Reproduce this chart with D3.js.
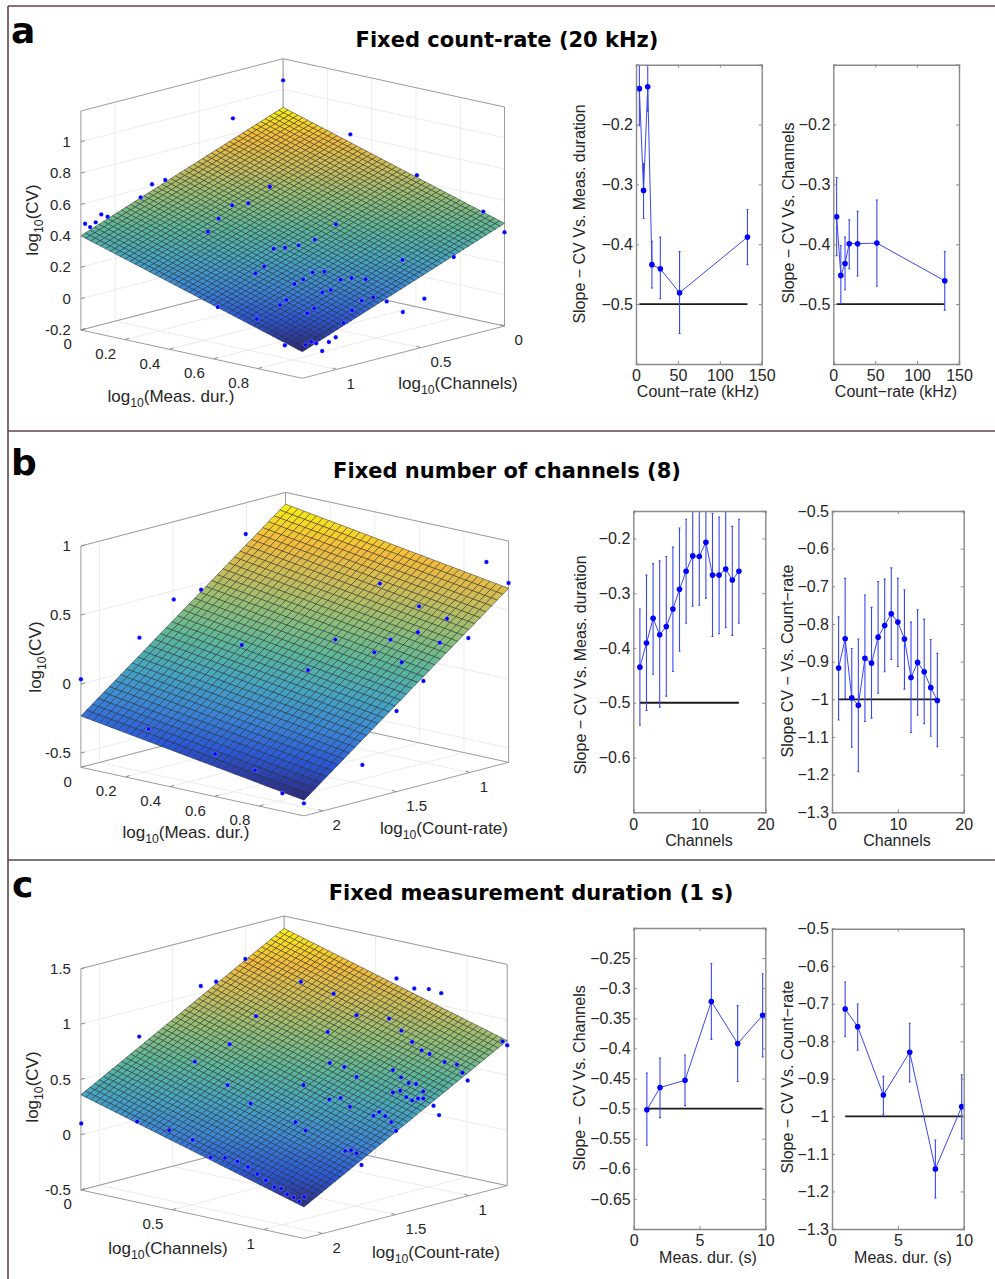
<!DOCTYPE html>
<html>
<head>
<meta charset="utf-8">
<script src="https://cdn.jsdelivr.net/npm/d3@7"></script>
<style>
   html, body { margin: 0; padding: 0; background: #fff; }
   svg { display: block; }
   text { font-family: "Liberation Sans", sans-serif; fill: #262626; }
   .head { font-family: "DejaVu Sans", sans-serif; font-weight: bold; fill: #000; }
</style>
</head>
<body>
<svg id="fig" width="995" height="1279"></svg>
<script>
// ---- panel a data: scatter in log10 units, fitted surface corners, slope plots
var durA = [0,.359,.636,.793,.168,.199,.141,.446,.357,.395,.048,.063,.035,.010,.022,.325,.950,.602,.300,1,.552,.455,.482,.514,.759,.880,.433,.412,.547,.575,.525,.504,.613,.639,.672,.570,.590,.690,.811,.485,.470,.663,.722,.323,.551,.640,.534,.760,.415,.620,.888,.872,.842,.830,.817,.768,.856];
var chanA = [0,.772,.438,.249,1.002,.964,1.034,.667,.774,.728,1.146,1.128,1.162,1.192,1.178,.813,.060,.479,.843,0,.539,.656,.624,.585,.290,.144,.683,.708,.545,.512,.572,.597,.466,.435,.395,.518,.494,.373,.228,.620,.638,.406,.335,.815,.541,.433,.561,.289,.704,.458,.857,.877,.913,.927,.943,1.002,.896];
var cvA = [1.057,1.139,1.030,.765,.724,.750,.641,.701,.585,.597,.535,.520,.485,.477,.455,.501,.530,.458,.419,.397,.361,.306,.312,.326,.227,.242,.194,.151,.153,.157,.109,.080,.105,.115,.106,.025,.040,-.010,-.021,-.021,-.053,-.030,-.036,-.062,-.076,-.091,-.107,-.105,-.141,-.171,-.069,-.099,-.106,-.096,-.116,-.117,-.156];
// surface height at the back, right, left and front corners of the floor
var surfaceA = [.885, .454, .400, -.020];

var rateKHz = [4, 9, 14, 19, 29, 52, 133];
var slopeDurRate = [-.140,-.310,-.137,-.434,-.441,-.481,-.388];
var slopeDurRateHi = [-.078,-.265,-.096,-.395,-.388,-.412,-.342];
var slopeDurRateLo = [-.202,-.357,-.178,-.473,-.491,-.549,-.434];
var slopeChanRate = [-.354,-.452,-.432,-.399,-.399,-.398,-.461];
var slopeChanRateHi = [-.2885,-.402,-.388,-.359,-.345,-.326,-.412];
var slopeChanRateLo = [-.419,-.499,-.476,-.441,-.453,-.470,-.510];

// ---- panel b data
var durB = [.194,.948,1,.699,.281,.217,.791,.856,.788,.137,.595,.724,.839,.906,.376,.686,.750,.531,0,.801,.738,.158,.314,.945,.694,.758,.952];
var rateB = [1.300,.808,.736,1.154,1.735,1.824,1.027,.936,1.031,1.936,1.299,1.120,.960,.867,1.603,1.172,1.083,1.388,2.126,1.013,1.100,1.906,1.690,1.646,1.995,1.906,2.054];
var cvB = [.924,.850,.696,.702,.673,.605,.534,.442,.346,.331,.300,.295,.269,.300,.269,.204,.130,.082,.034,-.007,-.223,-.332,-.519,-.388,-.418,-.587,-.550];
var surfaceB = [.915, .657, -.232, -.483];

var channelsList = [1,2,3,4,5,6,7,8,9,10,11,12,13,14,15,16];
var slopeDurChan = [-.435,-.391,-.346,-.376,-.361,-.329,-.293,-.260,-.232,-.233,-.207,-.267,-.267,-.256,-.276,-.260];
var slopeDurChanHi = [-.329,-.267,-.246,-.241,-.233,-.216,-.181,-.165,-.145,-.145,-.139,-.154,-.161,-.145,-.178,-.165];
var slopeDurChanLo = [-.541,-.514,-.448,-.508,-.488,-.443,-.406,-.355,-.324,-.322,-.309,-.379,-.374,-.363,-.377,-.355];
var slopeRateChan = [-.917,-.839,-.996,-1.016,-.891,-.904,-.835,-.804,-.773,-.795,-.840,-.942,-.902,-.927,-.969,-1.003];
var slopeRateChanHi = [-.781,-.679,-.865,-.840,-.723,-.756,-.687,-.681,-.651,-.679,-.709,-.795,-.762,-.787,-.841,-.878];
var slopeRateChanLo = [-1.055,-.997,-1.127,-1.192,-1.059,-1.050,-.984,-.927,-.894,-.913,-.973,-1.088,-1.042,-1.065,-1.098,-1.126];

// ---- panel c data
var chanC = [.238,.343,.387,.630,.723,.903,.954,.996,1.031,.501,.789,.882,.167,.706,.917,.948,.426,.975,.998,1.207,1.22,.326,.712,.754,.893,1.041,1.076,1.092,1.107,.789,.916,.938,.959,.420,.637,.893,.914,.980,.711,.743,.931,.948,.965,.980,.486,.770,1.009,.837,.854,.871,1.025,.888,.614,.001,.161,.643,.253,.902,.320,.756,.773,.789,.803,.371,.412,.448,.478,.505,.529,.903,.922,.939,.958,.974,.988];
var rateC = [1.299,1.735,1.685,1.409,1.302,1.097,1.039,.992,.951,1.555,1.227,1.121,1.936,1.321,1.081,1.046,1.641,1.015,.989,.751,.736,1.755,1.314,1.267,1.109,.940,.900,.882,.865,1.227,1.082,1.057,1.033,1.648,1.400,1.109,1.085,1.010,1.316,1.279,1.065,1.046,1.027,1.010,1.573,1.249,.976,1.172,1.153,1.134,.958,1.114,1.427,2.125,1.943,1.393,1.838,1.099,1.762,1.264,1.245,1.227,1.211,1.703,1.656,1.616,1.581,1.551,1.523,1.931,1.909,1.890,1.869,1.851,1.834];
var cvC = [1.389,1.332,1.370,1.362,1.250,1.383,1.291,1.284,1.246,1.055,1.055,1.021,.881,.906,.911,.808,.804,.731,.698,.805,.769,.650,.625,.588,.556,.624,.598,.525,.455,.496,.489,.437,.427,.435,.428,.353,.368,.360,.296,.307,.310,.279,.297,.296,.267,.227,.229,.144,.179,.140,.144,.085,.094,.101,.114,.017,.033,.006,-.057,-.171,-.165,-.193,-.299,-.216,-.223,-.255,-.307,-.371,-.429,-.218,-.231,-.283,-.311,-.350,-.308];
var surfaceC = [1.388, .811, .361, -.234];

var durSeconds = [1, 2, 3.9, 5.9, 7.9, 9.8];
var durSeconds2 = [1, 1.95, 3.9, 5.9, 7.85, 9.85];
var slopeChanDur = [-.502,-.465,-.453,-.322,-.392,-.345];
var slopeChanDurHi = [-.441,-.416,-.411,-.259,-.329,-.276];
var slopeChanDurLo = [-.561,-.515,-.495,-.385,-.455,-.414];
var slopeRateDur = [-.714,-.761,-.943,-.829,-1.140,-.974];
var slopeRateDurHi = [-.642,-.701,-.893,-.752,-1.063,-.889];
var slopeRateDurLo = [-.788,-.824,-.996,-.908,-1.217,-1.060];

// tick labels
var ticksCvA = [-.2, 0, .2, .4, .6, .8, 1];
var ticksCvB = [-.5, 0, .5, 1];
var ticksCvC = [-.5, 0, .5, 1, 1.5];
var ticksDur = [0, .2, .4, .6, .8];
var ticksChan = [0, .5, 1];
var ticksRate = [1, 1.5, 2];
var ticksY1 = [-.5, -.4, -.3, -.2];
var ticksY2 = [-.6, -.5, -.4, -.3, -.2];
var ticksY3 = [-1.3, -1.2, -1.1, -1, -.9, -.8, -.7, -.6, -.5];
var ticksY4 = [-.65, -.6, -.55, -.5, -.45, -.4, -.35, -.3, -.25];

var svg = d3.select("#fig");

// parula as it looks in the figure, a bit washed out
var parula = d3.scaleLinear()
   .domain([0, .125, .25, .375, .5, .625, .75, .875, 1])
   .range(["#2c2a80","#2a58d8","#3b86d6","#45a6c0","#5cb79a","#8fbe78","#c8bd5a","#f4bb3b","#f9f20e"]);

function logLabel(sel, name) {
   sel.append("tspan").text("log");
   sel.append("tspan").attr("dy", 5).attr("font-size", "0.72em").text("10");
   sel.append("tspan").attr("dy", -5).text("(" + name + ")");
}

function drawSurfacePlot(p) {
   var g = svg.append("g");
   var nCells = p.nCells;
   var uFrac = d3.scaleLinear().domain(p.uDomain).range([0, 1]);
   var vFrac = d3.scaleLinear().domain(p.vDomain).range([0, 1]);
   var zFrac = d3.scaleLinear().domain(p.zDomain).range([0, 1]);

   function project(u, v, z) {
      var fu = uFrac(u), fv = vFrac(v);
      return [
         p.back[0] + fu * (p.right[0] - p.back[0]) + fv * (p.left[0] - p.back[0]),
         p.back[1] + fu * (p.right[1] - p.back[1]) + fv * (p.left[1] - p.back[1]) - zFrac(z) * p.height
      ];
   }
   function line(a, b, color, w) {
      g.append("line")
         .attr("x1", a[0]).attr("y1", a[1])
         .attr("x2", b[0]).attr("y2", b[1])
         .attr("stroke", color).attr("stroke-width", w);
   }

   var u0 = p.uDomain[0], u1 = p.uDomain[1];
   var v0 = p.vDomain[0], v1 = p.vDomain[1];
   var z0 = p.zDomain[0], z1 = p.zDomain[1];

   // grid on walls and floor
   var gridColor = "#ececec";
   p.zTicks.forEach(function(t) {
      line(project(u0, v1, t), project(u0, v0, t), gridColor, 1);
      line(project(u0, v0, t), project(u1, v0, t), gridColor, 1);
   });
   p.uTicks.forEach(function(t) {
      line(project(t, v1, z0), project(t, v0, z0), gridColor, 1);
      line(project(t, v0, z0), project(t, v0, z1), gridColor, 1);
   });
   p.vTicks.forEach(function(t) {
      line(project(u1, t, z0), project(u0, t, z0), gridColor, 1);
      line(project(u0, t, z0), project(u0, t, z1), gridColor, 1);
   });

   // box
   var boxColor = "#9c9c9c";
   line(project(u0, v1, z0), project(u0, v1, z1), boxColor, 1);
   line(project(u0, v0, z0), project(u0, v0, z1), boxColor, 1);
   line(project(u1, v0, z0), project(u1, v0, z1), boxColor, 1);
   line(project(u0, v1, z1), project(u0, v0, z1), boxColor, 1);
   line(project(u0, v0, z1), project(u1, v0, z1), boxColor, 1);
   line(project(u0, v1, z0), project(u0, v0, z0), boxColor, 1);
   line(project(u0, v0, z0), project(u1, v0, z0), boxColor, 1);
   line(project(u0, v1, z0), project(u1, v1, z0), boxColor, 1);
   line(project(u1, v1, z0), project(u1, v0, z0), boxColor, 1);

   // fitted plane
   var c = p.surface;
   function height(fu, fv) {
      return c[0] + fu * (c[1] - c[0]) + fv * (c[2] - c[0]);
   }
   var color = d3.scaleLinear().domain(d3.extent(c)).range([0, 1]);
   var cells = d3.cross(d3.range(nCells), d3.range(nCells));
   var uCell = d3.scaleLinear().domain([0, nCells]).range(p.uDomain);
   var vCell = d3.scaleLinear().domain([0, nCells]).range(p.vDomain);
   var cellPath = d3.line();
   g.append("g").selectAll("path")
      .data(cells)
      .join("path")
      .attr("d", function(d) {
         var i = d[0], j = d[1];
         var corners = [[i, j], [i + 1, j], [i + 1, j + 1], [i, j + 1]].map(function(k) {
            return project(uCell(k[0]), vCell(k[1]), height(k[0] / nCells, k[1] / nCells));
         });
         return cellPath(corners) + "Z";
      })
      .attr("fill", function(d) {
         return parula(color(height((d[0] + .5) / nCells, (d[1] + .5) / nCells)));
      })
      .attr("stroke", "#1d1d1d")
      .attr("stroke-opacity", .6)
      .attr("stroke-width", .8);

   // scatter
   g.append("g").selectAll("circle")
      .data(d3.range(p.us.length))
      .join("circle")
      .attr("cx", function(i) { return project(p.us[i], p.vs[i], p.zs[i])[0]; })
      .attr("cy", function(i) { return project(p.us[i], p.vs[i], p.zs[i])[1]; })
      .attr("r", 2.2)
      .attr("fill", "#0000ff")
      .attr("stroke", "#fff")
      .attr("stroke-opacity", .45)
      .attr("stroke-width", .6);

   // tick marks and tick labels
   var label = g.append("g").attr("font-size", 15);
   p.zTicks.forEach(function(t) {
      var a = project(u0, v1, t);
      line(a, [a[0] + 4, a[1] - 1], "#8a8a8a", 1);
      label.append("text").attr("x", a[0] - 10).attr("y", a[1]).attr("dy", ".35em")
         .attr("text-anchor", "end").text(String(t));
   });
   p.uTicks.forEach(function(t) {
      var a = project(t, v1, z0);
      line(a, [a[0] + 4, a[1] - 1.5], "#8a8a8a", 1);
      label.append("text").attr("x", a[0] - 9).attr("y", a[1] + 14).attr("dy", ".35em")
         .attr("text-anchor", "end").text(String(t));
   });
   p.vTicks.forEach(function(t) {
      var a = project(u1, t, z0);
      line(a, [a[0] - 4, a[1] - 1.5], "#8a8a8a", 1);
      label.append("text").attr("x", a[0] + 10).attr("y", a[1] + 14).attr("dy", ".35em")
         .text(String(t));
   });

   // axis names
   var names = g.append("g").attr("font-size", 17).attr("text-anchor", "middle");
   logLabel(names.append("text").attr("x", p.uName[1]).attr("y", p.uName[2]), p.uName[0]);
   logLabel(names.append("text").attr("x", p.vName[1]).attr("y", p.vName[2]), p.vName[0]);
   logLabel(names.append("text")
      .attr("transform", "translate(" + p.zName[0] + "," + p.zName[1] + ") rotate(-90)"), "CV");
}

var clipCount = 0;

function drawSlopePlot(p) {
   var x = d3.scaleLinear().domain(p.xDomain).range(p.xRange);
   var y = d3.scaleLinear().domain(p.yDomain).range(p.yRange);
   var g = svg.append("g");

   // error bars, line and level are clipped by the box
   clipCount += 1;
   var clipId = "clip" + clipCount;
   g.append("clipPath").attr("id", clipId).append("rect")
      .attr("x", p.xRange[0]).attr("y", p.yRange[1])
      .attr("width", p.xRange[1] - p.xRange[0])
      .attr("height", p.yRange[0] - p.yRange[1]);
   var inner = g.append("g").attr("clip-path", "url(#" + clipId + ")");

   inner.append("line")
      .attr("x1", x(p.level[0])).attr("x2", x(p.level[1]))
      .attr("y1", y(p.level[2])).attr("y2", y(p.level[2]))
      .attr("stroke", "#1a1a1a").attr("stroke-width", 1.8);

   var idx = d3.range(p.xs.length);
   inner.selectAll(".bar").data(idx).join("path")
      .attr("class", "bar")
      .attr("d", function(i) {
         var cx = x(p.xs[i]);
         return "M" + cx + "," + y(p.hi[i]) + "V" + y(p.lo[i]) +
            "M" + (cx - 1) + "," + y(p.hi[i]) + "h2" +
            "M" + (cx - 1) + "," + y(p.lo[i]) + "h2";
      })
      .attr("fill", "none")
      .attr("stroke", "#3c46f2")
      .attr("stroke-width", 1.1);

   inner.append("path")
      .attr("d", d3.line()
         .x(function(i) { return x(p.xs[i]); })
         .y(function(i) { return y(p.ys[i]); })(idx))
      .attr("fill", "none")
      .attr("stroke", "#3c46f2")
      .attr("stroke-width", 1);

   inner.selectAll("circle").data(idx).join("circle")
      .attr("cx", function(i) { return x(p.xs[i]); })
      .attr("cy", function(i) { return y(p.ys[i]); })
      .attr("r", 2.8)
      .attr("fill", "#0000ff");

   // axes, ticks point inward
   var fmt = d3.format(".2~f");
   var left = d3.axisLeft(y).tickValues(p.yTicks).tickFormat(fmt).tickSize(-3).tickPadding(3);
   var right = d3.axisRight(y).tickValues(p.yTicks).tickFormat("").tickSize(-3);
   var bottom = d3.axisBottom(x).tickValues(p.xTicks).tickFormat(d3.format("d")).tickSize(-3).tickPadding(6);
   var top = d3.axisTop(x).tickValues(p.xTicks).tickFormat("").tickSize(-3);
   [
      [left, p.xRange[0], 0], [right, p.xRange[1], 0],
      [bottom, 0, p.yRange[0]], [top, 0, p.yRange[1]]
   ].forEach(function(a) {
      var ax = g.append("g")
         .attr("transform", "translate(" + a[1] + "," + a[2] + ")")
         .call(a[0]);
      ax.selectAll("path, line").attr("stroke", "#8a8a8a").attr("stroke-width", 1.4);
      ax.selectAll("line").attr("stroke-width", 1);
      ax.selectAll("text").attr("font-size", 16).attr("font-family", "Liberation Sans").attr("fill", "#1c1c1c");
   });

   g.append("text").attr("font-size", 16).attr("text-anchor", "middle")
      .attr("x", p.xName[1]).attr("y", p.xName[2]).text(p.xName[0]);
   g.append("text").attr("font-size", 16).attr("text-anchor", "middle")
      .attr("transform", "translate(" + p.yName[1] + "," + p.yName[2] + ") rotate(-90)")
      .style("white-space", "pre")
      .text(p.yName[0]);
}

// frame around the panels
[[8, 6, 995, 6], [8, 431, 995, 431], [8, 860, 995, 860], [8, 6, 8, 1279]].forEach(function(f) {
   svg.append("line")
      .attr("x1", f[0]).attr("y1", f[1]).attr("x2", f[2]).attr("y2", f[3])
      .attr("stroke", "#5f4648").attr("stroke-width", 1.6);
});

// panel letters and titles
[["a", 11, 43], ["b", 11, 475], ["c", 12, 897]].forEach(function(d) {
   svg.append("text").attr("class", "head").attr("font-size", 36)
      .attr("x", d[1]).attr("y", d[2]).text(d[0]);
});
[["Fixed count-rate (20 kHz)", 507, 46.5], ["Fixed number of channels (8)", 507, 478], ["Fixed measurement duration (1 s)", 531, 900]].forEach(function(d) {
   svg.append("text").attr("class", "head").attr("font-size", 21)
      .attr("text-anchor", "middle").attr("x", d[1]).attr("y", d[2]).text(d[0]);
});

drawSurfacePlot({
   nCells: 45,
   back: [283.1, 277.7], right: [504.5, 326], left: [80.9, 330], height: 219,
   uDomain: [0, 1], vDomain: [0, 1.204], zDomain: [-.2, 1.195],
   zTicks: ticksCvA, uTicks: ticksDur, vTicks: ticksChan,
   surface: surfaceA, us: durA, vs: chanA, zs: cvA,
   uName: ["Meas. dur.", 171, 402], vName: ["Channels", 458, 389], zName: [38, 220]
});
drawSurfacePlot({
   nCells: 36,
   back: [285.5, 713.7], right: [508.6, 762.3], left: [80.9, 767.3], height: 221.3,
   uDomain: [0, 1], vDomain: [.736, 2.126], zDomain: [-.604, 1],
   zTicks: ticksCvB, uTicks: ticksDur, vTicks: ticksRate,
   surface: surfaceB, us: durB, vs: rateB, zs: cvB,
   uName: ["Meas. dur.", 186, 838], vName: ["Count-rate", 444, 834], zName: [41, 657]
});
drawSurfacePlot({
   nCells: 45,
   back: [284.1, 1137.3], right: [507.2, 1185.7], left: [80.9, 1190], height: 221.3,
   uDomain: [0, 1.22], vDomain: [.736, 2.126], zDomain: [-.5, 1.5],
   zTicks: ticksCvC, uTicks: ticksChan, vTicks: ticksRate,
   surface: surfaceC, us: chanC, vs: rateC, zs: cvC,
   uName: ["Channels", 168, 1254], vName: ["Count-rate", 436, 1258], zName: [38, 1087]
});

drawSlopePlot({
   xDomain: [0, 150], xRange: [636, 761.7], yDomain: [-.6, -.1], yRange: [364, 64.7],
   xs: rateKHz, ys: slopeDurRate, hi: slopeDurRateHi, lo: slopeDurRateLo, level: [4, 133, -.5],
   xTicks: [0, 50, 100, 150], yTicks: ticksY1,
   xName: ["Count\u2212rate (kHz)", 698, 397], yName: ["Slope \u2212 CV Vs. Meas. duration", 585, 214]
});
drawSlopePlot({
   xDomain: [0, 150], xRange: [833.3, 959], yDomain: [-.6, -.1], yRange: [364, 64.7],
   xs: rateKHz, ys: slopeChanRate, hi: slopeChanRateHi, lo: slopeChanRateLo, level: [4, 133, -.5],
   xTicks: [0, 50, 100, 150], yTicks: ticksY1,
   xName: ["Count\u2212rate (kHz)", 896, 397], yName: ["Slope \u2212 CV Vs. Channels", 794, 213]
});
drawSlopePlot({
   xDomain: [0, 20], xRange: [633.3, 765.3], yDomain: [-.7, -.15], yRange: [812.3, 511],
   xs: channelsList, ys: slopeDurChan, hi: slopeDurChanHi, lo: slopeDurChanLo, level: [1, 16, -.5],
   xTicks: [0, 10, 20], yTicks: ticksY2,
   xName: ["Channels", 699, 846], yName: ["Slope \u2212 CV Vs. Meas. duration", 586, 665]
});
drawSlopePlot({
   xDomain: [0, 20], xRange: [832, 963.7], yDomain: [-1.3, -.5], yRange: [812.3, 511],
   xs: channelsList, ys: slopeRateChan, hi: slopeRateChanHi, lo: slopeRateChanLo, level: [1, 16, -1],
   xTicks: [0, 10, 20], yTicks: ticksY3,
   xName: ["Channels", 897, 846], yName: ["Slope CV \u2212 Vs. Count\u2212rate", 793, 661]
});
drawSlopePlot({
   xDomain: [0, 10], xRange: [633.7, 765.3], yDomain: [-.7, -.2], yRange: [1229, 928],
   xs: durSeconds, ys: slopeChanDur, hi: slopeChanDurHi, lo: slopeChanDurLo, level: [1, 9.8, -.5],
   xTicks: [0, 5, 10], yTicks: ticksY4,
   xName: ["Meas. dur. (s)", 708, 1263], yName: ["Slope \u2212  CV Vs. Channels", 585, 1078]
});
drawSlopePlot({
   xDomain: [0, 10], xRange: [832, 963.7], yDomain: [-1.3, -.5], yRange: [1229, 928.7],
   xs: durSeconds2, ys: slopeRateDur, hi: slopeRateDurHi, lo: slopeRateDurLo, level: [1, 10, -1],
   xTicks: [0, 5, 10], yTicks: ticksY3,
   xName: ["Meas. dur. (s)", 903, 1263], yName: ["Slope \u2212 CV Vs. Count\u2212rate", 793, 1077]
});
</script>
</body>
</html>
